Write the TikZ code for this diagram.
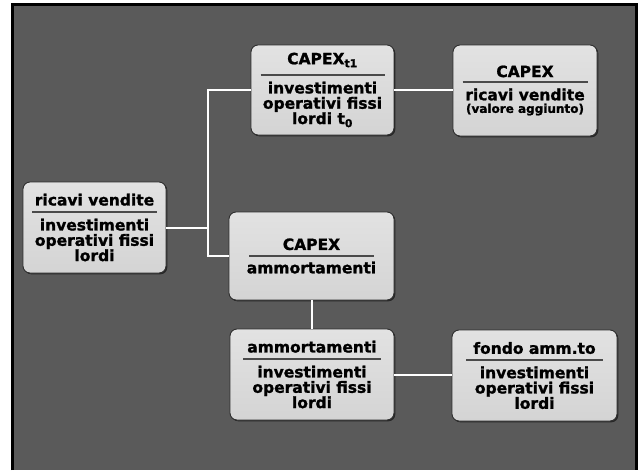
\documentclass[tikz,border=0pt]{standalone}
\usepackage{fontspec}
\setmainfont{DejaVu Sans}[BoldFeatures={FakeBold=1.3}]
\usetikzlibrary{shadows}
\definecolor{bg}{HTML}{5A5A5A}
\definecolor{boxtop}{HTML}{E2E2E2}
\definecolor{boxbot}{HTML}{D4D4D4}
\definecolor{boxedge}{HTML}{2E2E2E}
\definecolor{rl}{HTML}{4A4A4A}
\newcommand{\ruleln}[1]{\textcolor{rl}{\rule{#1}{2pt}}}
\begin{document}
\begin{tikzpicture}[x=1pt,y=-1pt,
  ratiobox/.style={rounded corners=7pt, top color=boxtop, bottom color=boxbot,
    draw=boxedge, line width=0.9pt, align=center, inner sep=0pt,
    font=\fontsize{15.5}{15.3}\selectfont\bfseries,
    drop shadow={shadow xshift=1.3pt, shadow yshift=-1.3pt, opacity=0.55, fill=black}},
  conn/.style={draw=white, line width=2pt}]
\fill[white] (0,0) rectangle (640,470);
\fill[bg] (12.5,4.5) rectangle (636.5,470);
\draw[black, line width=3pt] (12.5,470) -- (12.5,4.5) -- (636.5,4.5) -- (636.5,470);
\useasboundingbox (0,0) rectangle (640,470);

\node[ratiobox, minimum width=143pt, minimum height=91pt] (A) at (94.5,227.5)
  {ricavi vendite\\[-7.8pt]\ruleln{125pt}\\[2.2pt]investimenti\\operativi fissi\\lordi};
\node[ratiobox, minimum width=143pt, minimum height=90pt] (B) at (322.5,90)
  {CAPEX\textsubscript{t1}\\[-3.6pt]\ruleln{124pt}\\[2.2pt]investimenti\\operativi fissi\\lordi t\textsubscript{0}};
\node[ratiobox, minimum width=144pt, minimum height=91pt] (C) at (525,90.5)
  {CAPEX\\[-9.6pt]\ruleln{125pt}\\[2.2pt]ricavi vendite\\[-2.7pt]{\fontsize{12}{13}\selectfont (valore aggiunto)}};
\node[ratiobox, minimum width=165pt, minimum height=88pt] (D) at (311.5,256)
  {CAPEX\\[-8.6pt]\ruleln{125pt}\\[1.4pt]ammortamenti};
\node[ratiobox, minimum width=164pt, minimum height=91pt] (E) at (312,374.5)
  {ammortamenti\\[-7.7pt]\ruleln{138pt}\\[2.1pt]investimenti\\operativi fissi\\lordi};
\node[ratiobox, minimum width=165pt, minimum height=91pt] (F) at (534.5,375.5)
  {fondo amm.to\\[-7.7pt]\ruleln{137pt}\\[1.5pt]investimenti\\operativi fissi\\lordi};

\coordinate (jt) at (208,90);
\coordinate (jb) at (208,256);
\draw[conn] (B.west) -- (jt) -- (jb) -- (D.west);
\draw[conn] (A.east) -- (A.east -| jt);
\draw[conn] (B.east) -- (B.east -| C.west);
\draw[conn] (D.south) -- (D.south |- E.north);
\draw[conn] (E.east) -- (E.east -| F.west);
\end{tikzpicture}
\end{document}
